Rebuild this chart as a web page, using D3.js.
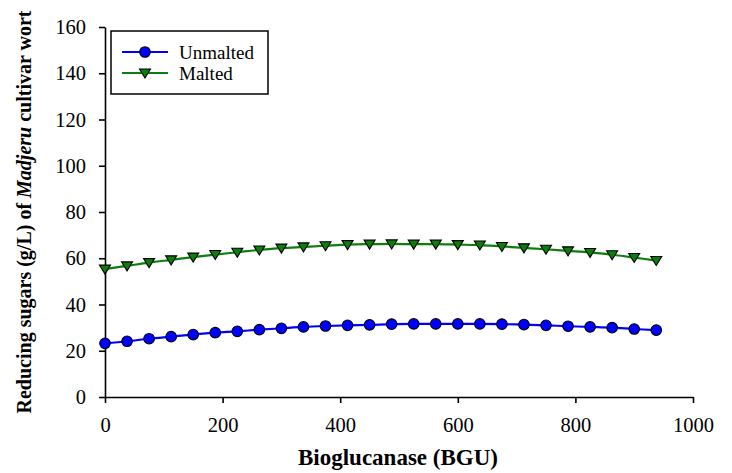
<!DOCTYPE html>
<html>
<head>
<meta charset="utf-8">
<script src="https://cdn.jsdelivr.net/npm/d3@7"></script>
<style>
  html, body { margin: 0; padding: 0; background: #fff; }
  svg { display: block; }
</style>
</head>
<body>
<svg id="chart" width="732" height="473"></svg>
<script>
const bgu = [0, 37.5, 75, 112.5, 150, 187.5, 225, 262.5, 300, 337.5, 375, 412.5, 450, 487.5,
             525, 562.5, 600, 637.5, 675, 712.5, 750, 787.5, 825, 862.5, 900, 937.5];
const unmalted = [23.2, 24.1, 25.2, 26.1, 27.0, 27.8, 28.4, 29.1, 29.7, 30.3, 30.7, 31.0, 31.2, 31.5,
                  31.6, 31.6, 31.6, 31.6, 31.5, 31.3, 31.0, 30.6, 30.3, 30.0, 29.4, 28.9];
const malted = [55.3, 56.7, 58.1, 59.3, 60.5, 61.6, 62.6, 63.6, 64.4, 64.9, 65.4, 65.9, 66.1, 66.2,
                66.1, 66.1, 65.9, 65.7, 65.1, 64.5, 63.9, 63.2, 62.5, 61.5, 60.3, 59.0];
const xTicks = [0, 200, 400, 600, 800, 1000];
const yTicks = [0, 20, 40, 60, 80, 100, 120, 140, 160];
const seriesNames = ["Unmalted", "Malted"];
const xTitle = "Bioglucanase (BGU)";

const SERIF = "'Liberation Serif', 'Times New Roman', Times, serif";

const svg = d3.select("#chart").style("font-family", SERIF);
svg.append("rect").attr("width", 732).attr("height", 473).attr("fill", "#fff");

const x = d3.scaleLinear().domain([0, 1000]).range([105, 693]);
const y = d3.scaleLinear().domain([0, 160]).range([397, 27]);
const fmt = d3.format("d");

// axes
const xAxis = svg.append("g").attr("transform", `translate(0,${y(0)})`)
  .call(d3.axisBottom(x).tickValues(xTicks).tickFormat(fmt).tickSize(6).tickSizeOuter(0).tickPadding(14));
const yAxis = svg.append("g").attr("transform", `translate(${x(0)},0)`)
  .call(d3.axisLeft(y).tickValues(yTicks).tickFormat(fmt).tickSize(6).tickSizeOuter(0).tickPadding(13));
[xAxis, yAxis].forEach(a => {
  a.attr("font-family", SERIF).attr("font-size", 20);
  a.selectAll("path.domain").attr("stroke", "#000").attr("stroke-width", 1.6);
  a.selectAll(".tick line").attr("stroke", "#000").attr("stroke-width", 1.6);
  a.selectAll(".tick text").style("font-family", SERIF).style("font-size", "20.5px").attr("fill", "#000");
});

const series = [
  { name: seriesNames[0], values: unmalted, color: "#0000ff", shape: "circle" },
  { name: seriesNames[1], values: malted, color: "#0a7f0a", shape: "triangle" }
];

const line = d3.line().curve(d3.curveCatmullRom)
  .x((d, i) => x(bgu[i])).y(d => y(d));

const triPath = "M-5.5,-4 L5.5,-4 L0,5 Z";

function drawMarker(g, s, cx, cy) {
  if (s.shape === "circle") {
    g.append("circle").attr("cx", cx).attr("cy", cy).attr("r", 5.3)
      .attr("fill", s.color).attr("stroke", "#000").attr("stroke-width", 1.1);
  } else {
    g.append("path").attr("d", triPath).attr("transform", `translate(${cx},${cy})`)
      .attr("fill", s.color).attr("stroke", "#000").attr("stroke-width", 1.1);
  }
}

series.forEach(s => {
  svg.append("path").datum(s.values).attr("d", line)
    .attr("fill", "none").attr("stroke", s.color).attr("stroke-width", 2.2);
  const g = svg.append("g");
  s.values.forEach((v, i) => drawMarker(g, s, x(bgu[i]), y(v)));
});

// legend
const lg = svg.append("g");
lg.append("rect").attr("x", 111).attr("y", 31).attr("width", 157).attr("height", 63)
  .attr("fill", "#fff").attr("stroke", "#000").attr("stroke-width", 1.5);
series.forEach((s, i) => {
  const ly = 52 + i * 21;
  lg.append("line").attr("x1", 122).attr("x2", 168).attr("y1", ly).attr("y2", ly)
    .attr("stroke", s.color).attr("stroke-width", 2.2);
  drawMarker(lg, s, 145, ly);
  lg.append("text").attr("x", 179).attr("y", ly).attr("dy", "0.35em")
    .style("font-family", SERIF).style("font-size", "19px").attr("fill", "#000").text(s.name);
});

// axis titles
svg.append("text").attr("x", 398).attr("y", 465).attr("text-anchor", "middle")
  .style("font-family", SERIF).style("font-size", "23px").style("font-weight", "bold")
  .attr("fill", "#000").text(xTitle);

const yt = svg.append("text").attr("transform", "translate(31,212) rotate(-90)")
  .attr("text-anchor", "middle").style("font-family", SERIF)
  .style("font-size", "20px").style("font-weight", "bold").attr("fill", "#000");
yt.append("tspan").text("Reducing sugars (g/L) of ");
yt.append("tspan").style("font-style", "italic").text("Madjeru");
yt.append("tspan").text(" cultivar wort");
</script>
</body>
</html>
